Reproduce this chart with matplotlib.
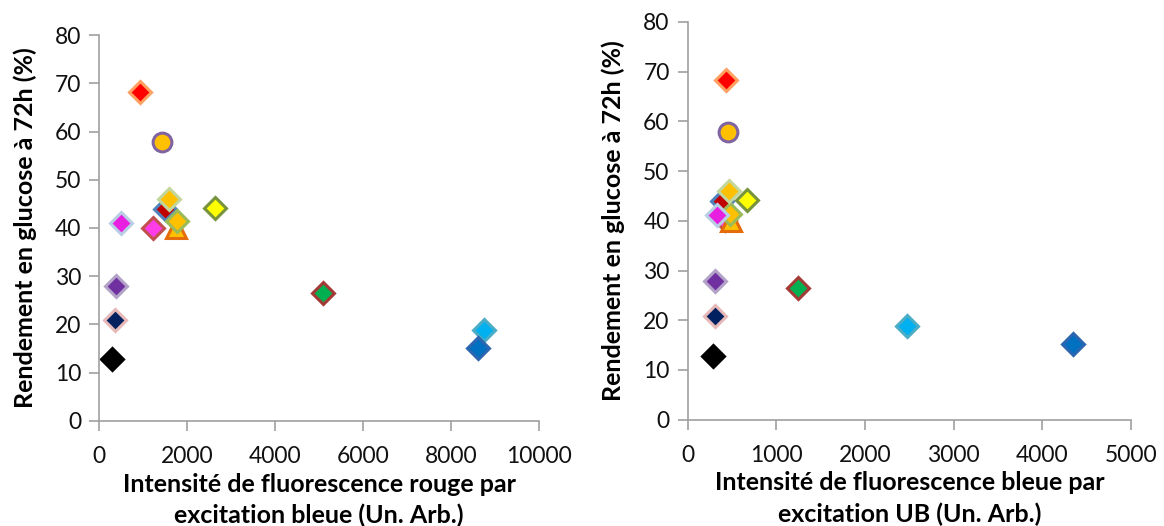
import matplotlib.pyplot as plt

plt.rcParams['font.family'] = ['Lato', 'DejaVu Sans']

# one entry per sample: fill colour, edge colour, marker
faces = ['#FF0000', '#FFC000', '#FFC000', '#C00000', '#FFC000', '#FFC000',
         '#FFFF00', '#E81EE0', '#FF3DE8', '#7030A0', '#002060', '#000000',
         '#00B050', '#00B0F0', '#0070C0']
edges = ['#FFA060', '#8064A2', '#C3D69B', '#4F81BD', '#9BBB59', '#E46C0A',
         '#77933C', '#B9CDE5', '#C0504D', '#B3A2C7', '#E6B9B8', '#000000',
         '#A33A36', '#4BACC6', '#2C66B0']
markers = ['D', 'o', 'D', 'D', 'D', '^', 'D', 'D', 'D', 'D', 'D', 'D', 'D', 'D', 'D']

rendement = [68.3, 57.8, 46.0, 43.9, 41.4, 40.0, 44.1, 41.1, 40.1, 27.9, 20.9, 12.8,
             26.5, 18.9, 15.2]
fluo_rouge = [930, 1425, 1600, 1500, 1770, 1740, 2640, 500, 1235, 386, 356, 303,
              5080, 8760, 8620]
fluo_bleue = [428, 451, 469, 390, 477, 488, 672, 327, 421, 311, 311, 282,
              1248, 2470, 4349]

# drawing order (bottom to top)
order = [8, 5, 3, 4, 2, 7, 6, 0, 1, 9, 10, 11, 12, 13, 14]

fig = plt.figure(figsize=(11.64, 5.26), dpi=100)
ax1 = fig.add_axes([0.0851, 0.1998, 0.378, 0.7335])
ax2 = fig.add_axes([0.5908, 0.2021, 0.3809, 0.7563])


def draw(ax, xs, xmax, xstep, xlabel):
    for i in order:
        m = markers[i]
        ms = 13.5 if m == 'o' else (15 if m == '^' else 11)
        ax.plot(xs[i], rendement[i], marker=m, ms=ms, mfc=faces[i], mec=edges[i],
                mew=2.2, ls='none', clip_on=False)
    ax.set_xlim(0, xmax)
    ax.set_ylim(0, 80)
    ax.set_xticks(range(0, xmax + 1, xstep))
    ax.set_yticks(range(0, 81, 10))
    for s in ['top', 'right']:
        ax.spines[s].set_visible(False)
    for s in ['left', 'bottom']:
        ax.spines[s].set_color('#A0A0A0')
        ax.spines[s].set_linewidth(1.2)
    ax.tick_params(direction='out', length=7, width=1.2, color='#A0A0A0',
                   labelsize=16.5, labelcolor='#111111')
    ax.tick_params(axis='x', pad=11)
    ax.tick_params(axis='y', pad=6)
    ax.set_xlabel(xlabel, fontsize=18, fontweight='bold', linespacing=1.4)
    ax.set_ylabel('Rendement en glucose à 72h (%)', fontsize=18, fontweight='bold')
    ax.yaxis.set_label_coords(-0.141, 0.5)
    ax.xaxis.set_label_coords(0.5, -0.135)


draw(ax1, fluo_rouge, 10000, 2000,
     'Intensité de fluorescence rouge par\nexcitation bleue (Un. Arb.)')
draw(ax2, fluo_bleue, 5000, 1000,
     'Intensité de fluorescence bleue par\nexcitation UB (Un. Arb.)')
ax2.xaxis.set_label_coords(0.5, -0.13)

fig.savefig('out.png', dpi=100)
